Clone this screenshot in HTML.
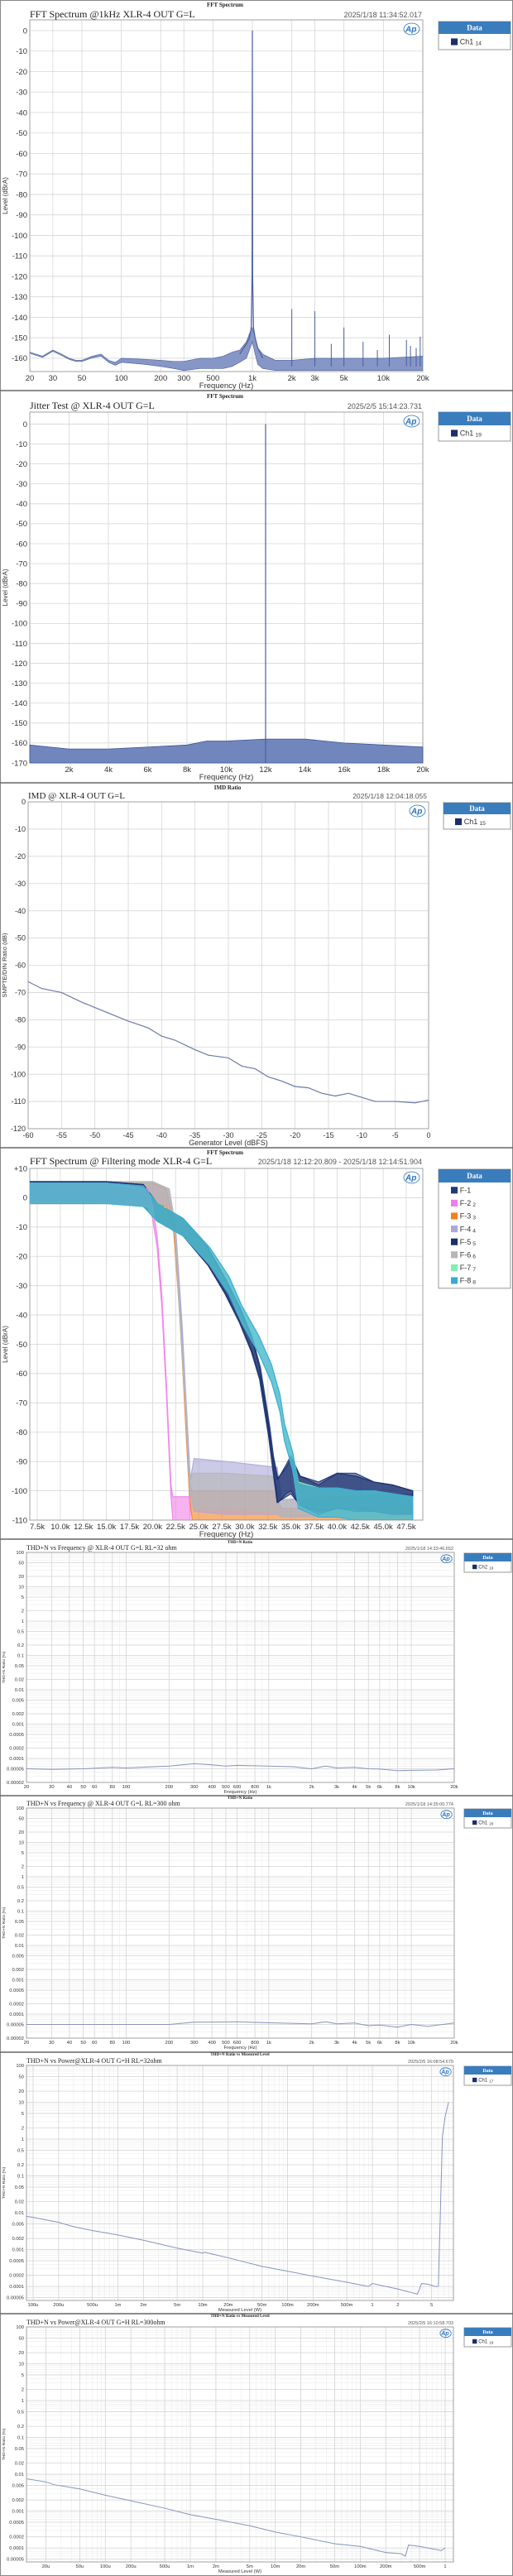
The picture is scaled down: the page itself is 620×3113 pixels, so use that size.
<!DOCTYPE html>
<html><head><meta charset="utf-8"><title>Audio measurement charts</title>
<style>
html,body{margin:0;padding:0;background:#fff;}
svg{display:block;}
</style></head>
<body>
<svg id="root" xmlns="http://www.w3.org/2000/svg" width="620" height="3113" viewBox="0 0 620 3113"></svg>
<script>
// ---------- DATA ----------
// Chart 1: FFT @1kHz
const fft1FloorFreq=[20,25,30,35,40,45,50,60,70,80,90,100,150,200,250,300,400,500,600,700,800,900,950,1000,1050,1100,1200,1500,2000,3000,5000,10000,20000];
const fft1FloorTop=[-157,-159,-156,-158,-160,-161,-161,-159,-158,-161,-162,-160,-160.5,-161,-161.5,-161.5,-160,-160,-159,-157,-156,-152,-148,-145,-150,-155,-158,-161,-161,-160,-160,-160,-159];
const fft1FloorBot=[-157.6,-159.6,-156.6,-158.6,-160.6,-161.6,-161.6,-159.8,-159,-162,-163.5,-162,-163,-164,-165,-166,-165,-165,-165,-164,-162,-160,-156,-152,-158,-163,-165,-166,-166,-166,-166,-166,-166];
const fft1SkirtFreq=[800,900,950,980,995,1000,1005,1020,1050,1100,1200];
const fft1SkirtLevel=[-158,-153,-150,-145,-120,0,-120,-145,-150,-155,-160];
const fft1HarmFreq=[2000,3000,4000,5000,7000,9000,11100,15000,16100,17800,19100];
const fft1HarmLevel=[-136,-137,-153,-145,-152,-156,-148.5,-151,-154,-155,-149.5];
const fft1XTicks=[20,30,50,100,200,300,500,1000,2000,3000,5000,10000,20000];
const fft1XLabels=['20','30','50','100','200','300','500','1k','2k','3k','5k','10k','20k'];
// Chart 2: Jitter
const jitFloorFreq=[0,1000,2000,4000,6000,8000,9000,10000,12000,14000,16000,18000,20000];
const jitFloorTop=[-161,-162,-163,-163,-162,-161,-159,-159,-158,-158,-160,-161,-162];
const jitToneFreq=[12000];
const jitToneLevel=[0];
// Chart 3: IMD
const imdGen=[-60,-58,-55,-52,-50,-47,-45,-42,-40,-38,-35,-33,-30,-28,-26,-24,-22,-20,-18,-16,-14,-12,-10,-8,-5,-2,0];
const imdRatio=[-66,-68.5,-70,-73.5,-75.5,-78.5,-80.5,-83,-86,-87.5,-91,-93,-94,-97,-98,-101,-102.5,-104.5,-105,-107,-108,-107,-108.5,-110,-110,-110.5,-109.5];
// Chart 4: Filter modes (kHz, dB, noise half-spread dB)
const f1Freq=[6.7,15,19,20.5,23.3,26,27.9,29.5,30.8,31.7,32.2,32.7,33.1,33.6,34.5,35,36,38,40,42,44,46,48.2];
const f1Level=[2,2,1,-5,-10,-20,-30,-40,-50,-60,-70,-80,-90,-100,-96,-94,-100,-103,-100,-100,-102,-103,-104];
const f1Spread=[3.5,3.5,3.5,3,3,3,2.5,2.5,2.5,2,2,2,2,4,5,6,5,5,6,6,5,5,4];
const f2Freq=[6.7,15,19.5,20,20.5,21,21.5,22,22.2,24,24.1];
const f2Level=[1.5,1.5,0,-5,-15,-35,-65,-100,-106,-106,-110];
const f2Spread=[3.5,3.5,3,2,2,2,2,2,4,4,0];
const f3Freq=[6.7,15,20,21.5,22.3,23,23.5,24,24.3,28,33,34,40,48.2];
const f3Level=[1.5,1.5,1.5,0,-10,-40,-70,-100,-105,-105,-105,-108,-108,-108];
const f3Spread=[3.5,3.5,3.5,3,2,2,2,2,5,5,5,2,2,2];
const f4Freq=[6.7,15,20,21.8,22.5,23.2,23.7,24.1,24.5,28,33.5,34,40,48.2];
const f4Level=[2,2,2,0,-12,-45,-75,-98,-98,-99,-100,-106,-105,-104];
const f4Spread=[3.5,3.5,3.5,3,2,2,2,2,9,9,8,3,3,3];
const f5Freq=[6.7,15,19,20.5,23.3,26,27.8,29.4,30.7,31.6,32.1,32.6,33,33.5,34.5,35,36,38,40,42,44,46,48.2];
const f5Level=[2,2,1,-5,-10,-20,-30,-40,-50,-60,-70,-80,-90,-100,-97,-95,-100,-102,-100,-101,-102,-103,-104];
const f5Spread=[3.5,3.5,3.5,3,3,3,2.5,2.5,2.5,2,2,2,2,4,5,6,5,5,6,6,5,5,4];
const f6Freq=[6.7,15,20,21.8,22.4,23,23.6,24,24.4,28,33,34,40,48.2];
const f6Level=[2,2,2,0,-10,-42,-72,-98,-100,-100,-101,-106,-106,-106];
const f6Spread=[3.5,3.5,3.5,3,2,2,2,2,6,6,6,3,3,3];
const f7Freq=[6.7,15,19,20.5,23.3,26.2,28.3,29.7,31.5,32.9,33.8,34.3,35.2,35.8,38,40,42,44,46,48.2];
const f7Level=[1.5,1.5,0.5,-5,-10,-20,-30,-40,-50,-60,-70,-80,-90,-101,-104,-104,-105,-105,-106,-106];
const f7Spread=[3.5,3.5,3.5,3,3,3,3,3,3,3,3,3,3,4,5,5,5,5,5,4];
const f8Freq=[6.7,15,19,20.5,23.3,26.2,28.3,29.7,31.5,32.9,33.8,34.3,35.2,35.8,38,40,42,44,46,48.2];
const f8Level=[1.5,1.5,0.5,-5,-10,-20,-30,-40,-50,-60,-70,-80,-90,-102,-104,-104,-105,-105,-106,-106];
const f8Spread=[3.5,3.5,3.5,3,3,3,3,3,3,3,3,3,3,4,5,5,5,5,5,4];
const filtXTicks=[7.5,10,12.5,15,17.5,20,22.5,25,27.5,30,32.5,35,37.5,40,42.5,45,47.5];
// Chart 5/6: THD+N vs frequency
const thd32Freq=[20,30,50,80,100,200,300,400,500,600,1000,1500,2000,2500,3000,4000,5000,6000,8000,10000,15000,20000];
const thd32Val=[0.00005,0.000048,0.00005,0.000055,0.000053,0.00006,0.00007,0.000065,0.00006,0.000063,0.00006,0.000057,0.00005,0.00006,0.000053,0.000055,0.00005,0.000049,0.000044,0.000045,0.000046,0.00005];
const thd300Freq=[20,50,100,200,300,600,1000,2000,2500,3000,4000,5000,6000,8000,10000,13000,20000];
const thd300Val=[0.00005,0.00005,0.00005,0.00005,0.000058,0.00006,0.000056,0.000052,0.00006,0.000052,0.000055,0.000046,0.000048,0.000042,0.00005,0.000044,0.000055];
const thdFreqTicks=[20,30,40,50,60,80,100,200,300,400,500,600,800,1000,2000,3000,4000,5000,6000,8000,10000,20000];
const thdFreqLabels=['20','30','40','50','60','80','100','200','300','400','500','600','800','1k','2k','3k','4k','5k','6k','8k','10k','20k'];
const thdYTicks=[100,50,20,10,5,2,1,0.5,0.2,0.1,0.05,0.02,0.01,0.005,0.002,0.001,0.0005,0.0002,0.0001,0.00005,0.00002];
const thdYLabels=['100','50','20','10','5','2','1','0.5','0.2','0.1','0.05','0.02','0.01','0.005','0.002','0.001','0.0005','0.0002','0.0001','0.00005','0.00002'];
// Chart 7/8: THD+N vs power
const pw32W=[84e-6,100e-6,200e-6,300e-6,500e-6,1e-3,2e-3,5e-3,10e-3,10.5e-3,20e-3,50e-3,100e-3,200e-3,500e-3,0.9,1,2,3.4,3.8,4.5,5.5,6.0,6.7,7.2,7.9];
const pw32Thd=[0.008,0.0075,0.0055,0.0042,0.0033,0.0025,0.0018,0.0011,0.0008,0.00085,0.0006,0.00035,0.00026,0.00019,0.00013,0.0001,0.00012,0.000085,0.000062,0.00012,0.000115,0.0001,0.0001,1.2,4,10];
const pw300W=[12e-6,20e-6,25e-6,50e-6,100e-6,200e-6,500e-6,1e-3,2e-3,5e-3,10e-3,20e-3,50e-3,100e-3,200e-3,300e-3,340e-3,370e-3,500e-3,700e-3,800e-3,900e-3,1];
const pw300Thd=[0.0075,0.0062,0.0052,0.004,0.0027,0.0019,0.0012,0.0008,0.0006,0.0004,0.00027,0.0002,0.00013,0.00011,0.000075,0.00007,0.00006,0.00012,0.00011,0.000095,0.00009,0.000085,0.0001];
const pw32Ticks=[1e-4,2e-4,5e-4,1e-3,2e-3,5e-3,1e-2,2e-2,5e-2,0.1,0.2,0.5,1,2,5];
const pw32Labels=['100u','200u','500u','1m','2m','5m','10m','20m','50m','100m','200m','500m','1','2','5'];
const pw300Ticks=[2e-5,5e-5,1e-4,2e-4,5e-4,1e-3,2e-3,5e-3,1e-2,2e-2,5e-2,0.1,0.2,0.5,1];
const pw300Labels=['20u','50u','100u','200u','500u','1m','2m','5m','10m','20m','50m','100m','200m','500m','1'];
const pwYTicks=[100,50,20,10,5,2,1,0.5,0.2,0.1,0.05,0.02,0.01,0.005,0.002,0.001,0.0005,0.0002,0.0001,0.00005];
const pwYLabels=['100','50','20','10','5','2','1','0.5','0.2','0.1','0.05','0.02','0.01','0.005','0.002','0.001','0.0005','0.0002','0.0001','0.00005'];

// ---------- HELPERS ----------
const NS='http://www.w3.org/2000/svg';
const svg=document.getElementById('root');
function mk(tag,parent,attrs){const e=document.createElementNS(NS,tag);for(const k in attrs)e.setAttribute(k,attrs[k]);parent.appendChild(e);return e;}
function txt(parent,x,y,s,attrs){const t=mk('text',parent,Object.assign({x:x,y:y},attrs));t.textContent=s;return t;}
function lin(d0,d1,r0,r1){return v=>r0+(v-d0)/(d1-d0)*(r1-r0);}
function lg(d0,d1,r0,r1){const a=Math.log10(d0),b=Math.log10(d1);return v=>r0+(Math.log10(v)-a)/(b-a)*(r1-r0);}
function minorsLog(d0,d1){const r=[];for(let e=Math.floor(Math.log10(d0))-1;e<=Math.ceil(Math.log10(d1));e++){for(let m=1;m<10;m++){const v=m*Math.pow(10,e);if(v>d0*1.0001&&v<d1*0.9999)r.push(v);}}return r;}
const SANS='"Liberation Sans", Arial, sans-serif';
const SERIF='"Liberation Serif", serif';

function frame(o){
  const g=mk('g',svg,{});
  
  
  const p=o.p;
  const sh=txt(g,o.hx,o.hy,o.header,{'font-family':SERIF,'font-size':o.hfs,'font-weight':'bold','text-anchor':'middle',fill:'#222'});
  
  
  const ti=txt(g,p.l,o.ty,o.title,{'font-family':SERIF,'font-size':o.tfs,fill:'#222'});
  
  
  const ts=txt(g,o.tsx,o.ty,o.ts,{'font-family':SANS,'font-size':o.tsfs,fill:'#555','text-anchor':'end'});
  
  
  const bg=mk('rect',g,{x:p.l,y:p.t,width:p.r-p.l,height:p.b-p.t,fill:'#fff'});
  
  
  (o.xMinor||[]).forEach(v=>{const X=o.x(v);const l=mk('line',g,{x1:X,x2:X,y1:p.t,y2:p.b,stroke:'#ececec','stroke-width':0.6});
    
    });
  (o.yMinor||[]).forEach(v=>{const Y=o.y(v);const l=mk('line',g,{x1:p.l,x2:p.r,y1:Y,y2:Y,stroke:'#ececec','stroke-width':0.6});
    
    });
  o.xTicks.forEach((v,i)=>{const X=o.x(v);
    const l=mk('line',g,{x1:X,x2:X,y1:p.t,y2:p.b,stroke:'#d6d6d6','stroke-width':0.8});
    
    
    const t=txt(g,X,o.xly,o.xLabels[i],{'font-family':SANS,'font-size':o.fs,'text-anchor':'middle',fill:'#333'});
    
    });
  o.yTicks.forEach((v,i)=>{const Y=o.y(v);
    const l=mk('line',g,{x1:p.l,x2:p.r,y1:Y,y2:Y,stroke:'#d6d6d6','stroke-width':0.8});
    
    
    const t=txt(g,p.l-3,Y+o.fs*0.35,o.yLabels[i],{'font-family':SANS,'font-size':o.fs,'text-anchor':'end',fill:'#333'});
    
    });
  const bd=mk('rect',g,{x:p.l,y:p.t,width:p.r-p.l,height:p.b-p.t,fill:'none',stroke:'#a0a0a0','stroke-width':1});
  
  
  const xt=txt(g,(p.l+p.r)/2,o.xty,o.xTitle,{'font-family':SANS,'font-size':o.fs,'text-anchor':'middle',fill:'#333'});
  
  
  const yy=(p.t+p.b)/2;
  const yt=txt(g,o.ytx,yy,o.yTitle,{'font-family':SANS,'font-size':o.fs*0.85,'text-anchor':'middle',fill:'#333',transform:'rotate(-90 '+o.ytx+' '+yy+')'});
  
  
  const ap=txt(g,p.r-o.apS*2.1,p.t+o.apS*1.45,'Ap',{'font-family':SANS,'font-size':o.apS,'font-style':'italic','font-weight':'bold',fill:'#2b74bd'});
  
  
  const ac=mk('ellipse',g,{cx:p.r-o.apS*1.35,cy:p.t+o.apS*1.1,rx:o.apS*0.95,ry:o.apS*0.7,fill:'none',stroke:'#2b74bd','stroke-width':0.8});
  
  
  const L=o.leg;
  const lgG=mk('g',g,{});
  
  
  const h=L.hh+L.rh*L.rows.length+3;
  mk('rect',lgG,{x:L.x,y:L.y,width:L.w,height:h,fill:'#fff',stroke:'#9a9a9a','stroke-width':1});
  const hd=mk('rect',lgG,{x:L.x,y:L.y,width:L.w,height:L.hh,fill:'#3a7dbd'});
  
  
  const ht=txt(lgG,L.x+L.w/2,L.y+L.hh*0.7,'Data',{'font-family':SERIF,'font-size':L.fs,'font-weight':'bold','text-anchor':'middle',fill:'#fff'});
  
  
  L.rows.forEach((r,i)=>{const cy=L.y+L.hh+L.rh*(i+0.5)+1.5;
    const sw=mk('rect',lgG,{x:L.x+L.sx,y:cy-L.fs*0.45,width:L.fs*0.9,height:L.fs*0.9,fill:r.c});
    
    
    const t=txt(lgG,L.x+L.sx+L.fs*1.2,cy+L.fs*0.35,r.t,{'font-family':SANS,'font-size':L.fs,fill:'#333'});
    
    
    if(r.s){const ts2=mk('tspan',t,{'font-size':L.fs*0.75,dx:2,dy:1});ts2.textContent=r.s;}
  });
  return g;
}
function pathOf(xs,ys,fx,fy){return xs.map((v,i)=>(i?'L':'M')+fx(v).toFixed(2)+','+fy(ys[i]).toFixed(2)).join('');}
function clip(id,p){const d=mk('defs',svg,{});const c=mk('clipPath',d,{id:id});mk('rect',c,{x:p.l,y:p.t,width:p.r-p.l,height:p.b-p.t});return 'url(#'+id+')';}

// ---------- PANELS / SEPARATORS ----------
const outer=mk('rect',svg,{x:0.5,y:0.5,width:619,height:3112,fill:'#fff',stroke:'#888','stroke-width':1});


[472,946,1387,1860,2170,2480,2796].forEach(y=>{const l=mk('line',svg,{x1:0,x2:620,y1:y,y2:y,stroke:'#666','stroke-width':1.5});
  
  });

// ---------- CHART 1 ----------
(function(){
  const p={l:36,t:24,r:511,b:449};
  const x=lg(20,20000,p.l,p.r), y=lin(5.25,-166.5,p.t,p.b);
  const yT=[],yL=[];for(let v=0;v>=-160;v-=10){yT.push(v);yL.push(String(v));}
  const g=frame({name:'fft-1khz-chart',p,x,y,xTicks:fft1XTicks,xLabels:fft1XLabels,yTicks:yT,yLabels:yL,fs:9.5,
    header:'FFT Spectrum',hx:272,hy:8,hfs:7,title:'FFT Spectrum @1kHz XLR-4 OUT G=L',ty:21,tfs:12,ts:'2025/1/18 11:34:52.017',tsx:510,tsfs:9,
    xly:460,xty:469,xTitle:'Frequency (Hz)',ytx:9,yTitle:'Level (dBrA)',apS:10,
    leg:{x:530,y:26,w:87,hh:15,rh:16,fs:9,sx:15,rows:[{t:'Ch1',s:'14',c:'#1c2f6b'}]}});
  const cp=clip('c1',p);
  const band=mk('path',g,{d:pathOf(fft1FloorFreq,fft1FloorTop,x,y)+pathOf(fft1FloorFreq.slice().reverse(),fft1FloorBot.slice().reverse(),x,y).replace('M','L')+'Z',fill:'#8696c6',stroke:'#4a5f9a','stroke-width':0.6,'clip-path':cp});
  
  
  const sk=mk('path',g,{d:pathOf(fft1SkirtFreq,fft1SkirtLevel,x,y),fill:'none',stroke:'#4a5f9a','stroke-width':1.2});
  
  
  fft1HarmFreq.forEach((f,i)=>{const l=mk('line',g,{x1:x(f),x2:x(f),y1:y(fft1HarmLevel[i]),y2:y(-164),stroke:'#4a5f9a','stroke-width':1});
    
    });
})();

// ---------- CHART 2 ----------
(function(){
  const p={l:36,t:498,r:511,b:922};
  const x=lin(0,20000,p.l,p.r), y=lin(6,-170,p.t,p.b);
  const xT=[],xL=[];for(let v=2000;v<=20000;v+=2000){xT.push(v);xL.push((v/1000)+'k');}
  const yT=[],yL=[];for(let v=0;v>=-170;v-=10){yT.push(v);yL.push(String(v));}
  const g=frame({name:'jitter-test-chart',p,x,y,xTicks:xT,xLabels:xL,yTicks:yT,yLabels:yL,fs:9.5,
    header:'FFT Spectrum',hx:272,hy:481,hfs:7,title:'Jitter Test @ XLR-4 OUT  G=L',ty:494,tfs:12,ts:'2025/2/5 15:14:23.731',tsx:510,tsfs:9,
    xly:933,xty:942,xTitle:'Frequency (Hz)',ytx:9,yTitle:'Level (dBrA)',apS:10,
    leg:{x:530,y:498,w:87,hh:16,rh:16,fs:9,sx:15,rows:[{t:'Ch1',s:'19',c:'#1c2f6b'}]}});
  const d=pathOf(jitFloorFreq,jitFloorTop,x,y)+'L'+x(20000)+','+p.b+'L'+x(0)+','+p.b+'Z';
  const band=mk('path',g,{d:d,fill:'#7186bd',stroke:'#3f5596','stroke-width':0.8});
  
  
  jitToneFreq.forEach((f,i)=>{const l=mk('line',g,{x1:x(f),x2:x(f),y1:y(jitToneLevel[i]),y2:p.b,stroke:'#4a5f9a','stroke-width':1.2});
    
    });
})();

// ---------- CHART 3 ----------
(function(){
  const p={l:34,t:969,r:518,b:1364};
  const x=lin(-60,0,p.l,p.r), y=lin(0,-120,p.t,p.b);
  const xT=[],xL=[];for(let v=-60;v<=0;v+=5){xT.push(v);xL.push(String(v));}
  const yT=[],yL=[];for(let v=0;v>=-120;v-=10){yT.push(v);yL.push(String(v));}
  const g=frame({name:'imd-chart',p,x,y,xTicks:xT,xLabels:xL,yTicks:yT,yLabels:yL,fs:9,
    header:'IMD Ratio',hx:275,hy:954,hfs:7,title:'IMD @ XLR-4 OUT G=L',ty:965,tfs:11,ts:'2025/1/18 12:04:18.055',tsx:516,tsfs:8.5,
    xly:1375,xty:1384,xTitle:'Generator Level (dBFS)',ytx:8,yTitle:'SMPTE/DIN Ratio (dB)',apS:10,
    leg:{x:536,y:970,w:81,hh:14,rh:15,fs:9,sx:14,rows:[{t:'Ch1',s:'15',c:'#1c2f6b'}]}});
  const ln=mk('path',g,{d:pathOf(imdGen,imdRatio,x,y),fill:'none',stroke:'#6d79ab','stroke-width':1.2});
  
  
})();

// ---------- CHART 4 ----------
(function(){
  const p={l:36,t:1412,r:511,b:1837};
  const x=lin(7.5,47.5,45,491), y=lin(10,-110,p.t,p.b);
  const xL=filtXTicks.map(v=>v.toFixed(1)+'k');
  const yT=[],yL=[];for(let v=10;v>=-110;v-=10){yT.push(v);yL.push(v>0?'+'+v:String(v));}
  const cols=['#1f3a7a','#f07ee8','#f57f20','#a9a9d9','#1a2f6e','#b6b6b6','#80f0b0','#3aa9d9'];
  const g=frame({name:'filter-mode-chart',p,x,y,xTicks:filtXTicks,xLabels:xL,yTicks:yT,yLabels:yL,fs:9.5,
    header:'FFT Spectrum',hx:272,hy:1395,hfs:7,title:'FFT Spectrum @ Filtering mode XLR-4 G=L',ty:1407,tfs:12,ts:'2025/1/18 12:12:20.809 - 2025/1/18 12:14:51.904',tsx:510,tsfs:9,
    xly:1848,xty:1857,xTitle:'Frequency (Hz)',ytx:9,yTitle:'Level (dBrA)',apS:10,
    leg:{x:530,y:1413,w:87,hh:16,rh:15.6,fs:9,sx:15,rows:[{t:'F-1',s:'',c:cols[0]},{t:'F-2',s:'2',c:cols[1]},{t:'F-3',s:'3',c:cols[2]},{t:'F-4',s:'4',c:cols[3]},{t:'F-5',s:'5',c:cols[4]},{t:'F-6',s:'6',c:cols[5]},{t:'F-7',s:'7',c:cols[6]},{t:'F-8',s:'8',c:cols[7]}]}});
  const cp=clip('c4',p);
  const series=[[f1Freq,f1Level,f1Spread],[f2Freq,f2Level,f2Spread],[f3Freq,f3Level,f3Spread],[f4Freq,f4Level,f4Spread],[f5Freq,f5Level,f5Spread],[f6Freq,f6Level,f6Spread],[f7Freq,f7Level,f7Spread],[f8Freq,f8Level,f8Spread]];
  const order=[2,3,5,0,4,1,6,7];
  order.forEach(i=>{const s=series[i];
    const top=s[1].map((v,k)=>Math.min(10,v+s[2][k])), bot=s[1].map((v,k)=>Math.max(-110,v-s[2][k]));
    const d=pathOf(s[0],top,x,y)+pathOf(s[0].slice().reverse(),bot.slice().reverse(),x,y).replace('M','L')+'Z';
    const b=mk('path',g,{d:d,fill:cols[i],stroke:cols[i],'stroke-width':1.2,'stroke-linejoin':'round','fill-opacity':0.6,'stroke-opacity':0.9,'clip-path':cp});
    
    
  });
})();

// ---------- CHARTS 5-8 ----------
function thdChart(o){
  const p=o.p;
  const x=lg(o.xd[0],o.xd[1],p.l,p.r), y=lg(o.yd[0],o.yd[1],p.b,p.t);
  const g=frame({name:o.name,p,x,y,xTicks:o.xT,xLabels:o.xL,yTicks:o.yT,yLabels:o.yL,fs:5.8,
    xMinor:minorsLog(o.xd[0],o.xd[1]),yMinor:minorsLog(o.yd[0],o.yd[1]),
    header:o.header,hx:290,hy:o.hy,hfs:5,title:o.title,ty:o.ty,tfs:8,ts:o.ts,tsx:548,tsfs:5.5,
    xly:p.b+7,xty:p.b+13,xTitle:o.xTitle,ytx:6,yTitle:'THD+N Ratio (%)',apS:7,
    leg:{x:561,y:o.ly,w:57,hh:10,rh:10,fs:6,sx:10,rows:[{t:o.ch,s:o.sub,c:'#1c2f6b'}]}});
  const ln=mk('path',g,{d:pathOf(o.xs,o.ys,x,y),fill:'none',stroke:'#8595bd','stroke-width':1,'clip-path':clip(o.name+'-clip',p)});
  
  
}
thdChart({name:'thd-vs-freq-32ohm-chart',p:{l:32,t:1876,r:549,b:2154},xd:[20,20000],yd:[0.00002,100],xT:thdFreqTicks,xL:thdFreqLabels,yT:thdYTicks,yL:thdYLabels,
  header:'THD+N Ratio',hy:1865,title:'THD+N vs Frequency @ XLR-4 OUT G=L RL=32 ohm',ty:1873,ts:'2025/1/18 14:33:46.652',xTitle:'Frequency (Hz)',ly:1877,ch:'Ch2',sub:'19',xs:thd32Freq,ys:thd32Val});
thdChart({name:'thd-vs-freq-300ohm-chart',p:{l:32,t:2185,r:549,b:2463},xd:[20,20000],yd:[0.00002,100],xT:thdFreqTicks,xL:thdFreqLabels,yT:thdYTicks,yL:thdYLabels,
  header:'THD+N Ratio',hy:2174,title:'THD+N vs Frequency @ XLR-4 OUT G=L RL=300 ohm',ty:2182,ts:'2025/1/18 14:35:00.774',xTitle:'Frequency (Hz)',ly:2186,ch:'Ch1',sub:'20',xs:thd300Freq,ys:thd300Val});
thdChart({name:'thd-vs-power-32ohm-chart',p:{l:32,t:2496,r:548,b:2780},xd:[83.6e-6,9.03],yd:[4.17e-5,100],xT:pw32Ticks,xL:pw32Labels,yT:pwYTicks,yL:pwYLabels,
  header:'THD+N Ratio vs Measured Level',hy:2484,title:'THD+N vs Power@XLR-4 OUT  G=H RL=32ohm',ty:2493,ts:'2025/2/5 16:08:54.679',xTitle:'Measured Level (W)',ly:2497,ch:'Ch1',sub:'17',xs:pw32W,ys:pw32Thd});
thdChart({name:'thd-vs-power-300ohm-chart',p:{l:32,t:2812,r:548,b:3096},xd:[11.8e-6,1.25],yd:[4.17e-5,100],xT:pw300Ticks,xL:pw300Labels,yT:pwYTicks,yL:pwYLabels,
  header:'THD+N Ratio vs Measured Level',hy:2800,title:'THD+N vs Power@XLR-4 OUT  G=H RL=300ohm',ty:2809,ts:'2025/2/5 16:10:58.703',xTitle:'Measured Level (W)',ly:2813,ch:'Ch1',sub:'18',xs:pw300W,ys:pw300Thd});
</script>
</body></html>
